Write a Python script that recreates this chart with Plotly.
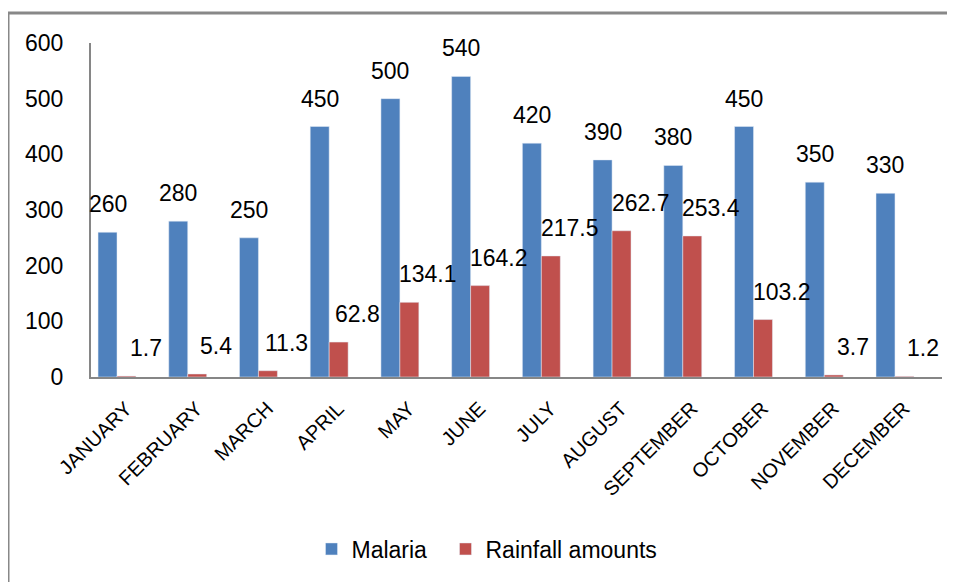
import plotly.graph_objects as go

months = ["JANUARY", "FEBRUARY", "MARCH", "APRIL", "MAY", "JUNE", "JULY",
          "AUGUST", "SEPTEMBER", "OCTOBER", "NOVEMBER", "DECEMBER"]
malaria = [260, 280, 250, 450, 500, 540, 420, 390, 380, 450, 350, 330]
rainfall = [1.7, 5.4, 11.3, 62.8, 134.1, 164.2, 217.5, 262.7, 253.4, 103.2, 3.7, 1.2]
y_ticks = [0, 100, 200, 300, 400, 500, 600]

FONT = "Liberation Sans"
OFF = 8  # browser body margin
W, H = 955 - OFF, 582 - OFF
L, R, T = 91 - OFF, 13, 43 - OFF
PLOT_BOTTOM = 377 - OFF
B = H - PLOT_BOTTOM
pw, ph = W - L - R, H - T - B


def px(x):
    return (x - OFF - L) / pw


def py(y):
    return (PLOT_BOTTOM - (y - OFF)) / ph


fig = go.Figure()
fig.add_trace(go.Bar(name="Malaria", x=months, y=malaria, marker_color="#4F81BD",
                     legendwidth=89))
fig.add_trace(go.Bar(name="Rainfall amounts", x=months, y=rainfall, marker_color="#C0504D"))

# data labels, anchored to each bar top in data coordinates
for m, v in zip(months, malaria):
    fig.add_annotation(x=m, y=v, xref="x", yref="y", text=str(v), showarrow=False,
                       xshift=-9.5, yshift=28, yanchor="middle", xanchor="center",
                       font=dict(size=23, family=FONT, color="black"))
for m, v in zip(months, rainfall):
    fig.add_annotation(x=m, y=v, xref="x", yref="y", text=str(v), showarrow=False,
                       xshift=28.5, yshift=28, yanchor="middle", xanchor="center",
                       font=dict(size=23, family=FONT, color="black"))

fig.update_layout(
    width=W, height=H,
    margin=dict(l=L, r=R, t=T, b=B),
    paper_bgcolor="white", plot_bgcolor="white",
    barmode="group", bargap=0.464, bargroupgap=0,
    font=dict(family=FONT, color="black"),
    showlegend=True,
    legend=dict(orientation="h", x=px(487), xanchor="center",
                y=py(549), yanchor="middle",
                font=dict(size=23, family=FONT, color="black"),
                itemwidth=30),
    xaxis=dict(
        type="category", range=[-0.3676, 11.665],
        showline=True, linecolor="#868686", linewidth=2,
        showgrid=False, ticks="", tickangle=-45,
        ticklabelstandoff=10, ticklabelshift=9,
        tickfont=dict(size=20, family=FONT, color="black"),
    ),
    yaxis=dict(
        range=[0, 600], tickvals=y_ticks,
        showline=True, linecolor="#868686", linewidth=2,
        showgrid=False, zeroline=False, ticks="",
        ticklabelstandoff=21,
        tickfont=dict(size=23, family=FONT, color="black"),
    ),
)

fig.add_shape(type="rect", xref="paper", yref="paper",
              x0=px(8), y0=py(600), x1=px(970), y1=py(13),
              line=dict(color="#888888", width=3), fillcolor="rgba(0,0,0,0)",
              layer="above")

fig.write_html("out.html")
